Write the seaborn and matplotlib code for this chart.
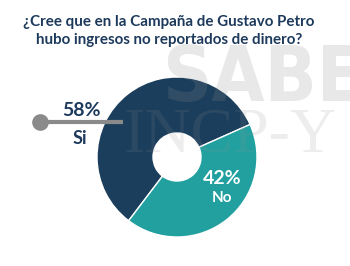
import matplotlib
matplotlib.use("Agg")
import matplotlib.pyplot as plt
import seaborn as sns

sns.set_theme(style="white")
plt.rcParams['font.family'] = ['Lato', 'DejaVu Sans']

categories = ["Si", "No"]
values = [58, 42]
pct_labels = ["58%", "42%"]
colors = ["#1b3e5c", "#22a0a0"]
title = "¿Cree que en la Campaña de Gustavo Petro\nhubo ingresos no reportados de dinero?"

W, H = 350, 266
fig = plt.figure(figsize=(W / 100, H / 100), dpi=100)
fig.patch.set_facecolor("white")

# pie axes
cx, cy, r = 177, 157, 80
pie_ax = fig.add_axes([(cx - r) / W, (H - cy - r) / H, 2 * r / W, 2 * r / H], zorder=1)
wedges, _ = pie_ax.pie(values, colors=colors, startangle=24, counterclock=True,
                       radius=1, wedgeprops=dict(width=0.7, edgecolor="white", linewidth=1.0))
pie_ax.set_xlim(-1, 1)
pie_ax.set_ylim(-1, 1)
pie_ax.set_aspect("equal")
pie_ax.axis("off")

# overlay (watermark + labels)
ov = fig.add_axes([0, 0, 1, 1], zorder=2)
ov.set_xlim(0, W)
ov.set_ylim(H, 0)
ov.axis("off")
ov.patch.set_alpha(0)

ov.text(162, 80, "SABE", fontsize=55, fontweight="bold", fontstretch="condensed",
        color="#8c8c8c", alpha=0.2, ha="left", va="center", family="DejaVu Sans")
ov.text(124, 137, "INCP-Y", fontsize=46, color="#8c8c8c", alpha=0.15, ha="left",
        va="center", family=["Liberation Serif", "DejaVu Serif"])

ov.text(169, 31, title, ha="center", va="center", fontsize=10.9, fontweight="bold",
        color="#1d3a5c", linespacing=1.45)

ov.plot([40, 123], [122, 122], color="#8a8a8a", lw=3, solid_capstyle="butt")
ov.plot([40], [122], marker="o", ms=12, color="#8a8a8a", mec="none")
ov.text(81, 110, pct_labels[0], ha="center", va="center", fontsize=14,
        fontweight="bold", color="#1d3a5c")
ov.text(80, 138, categories[0], ha="center", va="center", fontsize=13,
        fontweight="bold", color="#1d3a5c")

ov.text(222, 178, pct_labels[1], ha="center", va="center", fontsize=14,
        fontweight="bold", color="white")
ov.text(222, 197.5, categories[1], ha="center", va="center", fontsize=11,
        fontweight="bold", color="white")

fig.savefig("out.png", dpi=100, facecolor="white")
